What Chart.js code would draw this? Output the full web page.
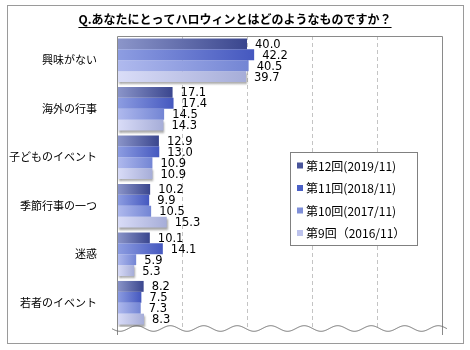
<!DOCTYPE html>
<html>
<head>
<meta charset="utf-8">
<script src="https://cdn.jsdelivr.net/npm/chart.js@4/dist/chart.umd.min.js"></script>
<style>
  html, body { margin: 0; padding: 0; background: #fff; }
  #wrap { width: 470px; height: 350px; position: relative; }
</style>
</head>
<body>
<div id="wrap"><canvas id="c" width="470" height="350"></canvas></div>
<script>
const titleText = 'Q.あなたにとってハロウィンとはどのようなものですか？';
const categories = ['興味がない', '海外の行事', '子どものイベント', '季節行事の一つ', '迷惑', '若者のイベント'];
const seriesLabels = ['第12回(2019/11)', '第11回(2018/11)', '第10回(2017/11)', '第9回（2016/11）'];
const s12 = [40.0, 17.1, 12.9, 10.2, 10.1, 8.2];
const s11 = [42.2, 17.4, 13.0, 9.9, 14.1, 7.5];
const s10 = [40.5, 14.5, 10.9, 10.5, 5.9, 7.3];
const s9  = [39.7, 14.3, 10.9, 15.3, 5.3, 8.3];
const xMin = 0, xMax = 100, xStep = 20;

const gradStops = [
  ['#8C96CA', '#3A468E'],
  ['#8E9EE2', '#4558BF'],
  ['#B0BAEE', '#7385D4'],
  ['#DADDF8', '#A6ADD8']
];
const legendColors = ['#48549A', '#4B60C6', '#7F8FD8', '#BCC2EC'];

function barGradient(i) {
  return function(ctx) {
    const chart = ctx.chart;
    const area = chart.chartArea;
    if (!area || ctx.type !== 'data') return gradStops[i][1];
    const xs = chart.scales.x;
    const x0 = xs.getPixelForValue(0);
    const x1 = xs.getPixelForValue(ctx.parsed ? ctx.parsed.x : ctx.raw);
    const g = chart.ctx.createLinearGradient(x0, 0, Math.max(x1, x0 + 1), 0);
    g.addColorStop(0, gradStops[i][0]);
    g.addColorStop(1, gradStops[i][1]);
    return g;
  };
}

const seriesData = [s12, s11, s10, s9];

const decor = {
  id: 'decor',
  beforeDraw(chart) {
    const c = chart.ctx;
    c.save();
    c.fillStyle = '#fff';
    c.fillRect(0, 0, chart.width, chart.height);
    c.strokeStyle = '#9A9A9A';
    c.lineWidth = 1;
    c.strokeRect(7.5, 5.5, 456, 338);
    c.font = 'bold 12px "Noto Sans CJK JP"';
    c.fillStyle = '#000';
    c.textAlign = 'center';
    c.textBaseline = 'alphabetic';
    const tx = 235, ty = 24;
    c.fillText(titleText, tx, ty);
    const w = c.measureText(titleText).width;
    c.beginPath();
    c.moveTo(tx - w / 2, ty + 3.5);
    c.lineTo(tx + w / 2, ty + 3.5);
    c.strokeStyle = '#000';
    c.lineWidth = 1;
    c.stroke();
    c.restore();
  },
  beforeDatasetDraw(chart, args) {
    if (args.index === 3) {
      const c = chart.ctx;
      c.save();
      c.shadowColor = 'rgba(0,0,0,0.35)';
      c.shadowOffsetX = 1;
      c.shadowOffsetY = 2;
      c.shadowBlur = 2;
    }
  },
  afterDatasetDraw(chart, args) {
    if (args.index === 3) chart.ctx.restore();
  },
  afterDatasetsDraw(chart) {
    const c = chart.ctx;
    const a = chart.chartArea;
    c.save();
    c.strokeStyle = '#8A8A8A';
    c.lineWidth = 1;
    c.beginPath();
    c.moveTo(Math.round(a.left) + 0.5, a.bottom + 8);
    c.lineTo(Math.round(a.left) + 0.5, Math.round(a.top) + 0.5);
    c.lineTo(Math.round(a.right) + 0.5, Math.round(a.top) + 0.5);
    c.lineTo(Math.round(a.right) + 0.5, a.bottom + 8);
    c.stroke();
    c.strokeStyle = '#707070';
    c.beginPath();
    const yc = a.bottom + 1.5;
    const x0 = a.left - 5, x1 = a.right + 5;
    for (let x = x0; x <= x1; x += 0.5) {
      const y = yc + 2.8 * Math.cos((x - (a.left + 3)) / 33.5 * 2 * Math.PI);
      if (x === x0) c.moveTo(x, y); else c.lineTo(x, y);
    }
    c.stroke();
    c.font = '11.5px "DejaVu Sans"';
    c.fillStyle = '#000';
    c.textAlign = 'left';
    c.textBaseline = 'middle';
    chart.data.datasets.forEach((ds, i) => {
      const meta = chart.getDatasetMeta(i);
      meta.data.forEach((el, j) => {
        c.fillText(ds.data[j].toFixed(1), el.x + 8, el.y + 1);
      });
    });
    const lx = 290.5, ly = 152.5, lw = 127, lh = 93;
    c.fillStyle = '#fff';
    c.fillRect(lx, ly, lw, lh);
    c.strokeStyle = '#808080';
    c.strokeRect(lx, ly, lw, lh);
    c.font = '12px "Noto Sans CJK JP"';
    const rows = [165.5, 188, 210.5, 233];
    chart.data.datasets.forEach((ds, i) => {
      c.fillStyle = legendColors[i];
      c.fillRect(297, rows[i] - 3, 6, 6);
      c.fillStyle = '#000';
      c.textBaseline = 'middle';
      c.fillText(ds.label, 306, rows[i] + 0.5);
    });
    c.restore();
  }
};

new Chart(document.getElementById('c'), {
  type: 'bar',
  data: {
    labels: categories,
    datasets: seriesData.map((d, i) => ({
      label: seriesLabels[i],
      data: d,
      backgroundColor: barGradient(i),
      borderWidth: 0,
      categoryPercentage: 0.9,
      barPercentage: 1.0
    }))
  },
  options: {
    indexAxis: 'y',
    responsive: false,
    animation: false,
    devicePixelRatio: 1,
    layout: { padding: { top: 36, right: 28, bottom: 23, left: 0 } },
    plugins: {
      legend: { display: false },
      title: { display: false },
      tooltip: { enabled: false }
    },
    scales: {
      x: {
        min: xMin, max: xMax,
        ticks: { display: false, stepSize: xStep },
        grid: {
          drawTicks: false,
          color: (ctx) => (ctx.tick && (ctx.tick.value === xMin || ctx.tick.value === xMax)) ? 'rgba(0,0,0,0)' : '#C4C4C4',
          lineWidth: 1
        },
        border: { display: false, dash: [4, 3] },
        afterFit(scale) { scale.height = 0; }
      },
      y: {
        ticks: {
          color: '#000',
          font: { family: '"Noto Sans CJK JP"', size: 11 },
          padding: 12
        },
        grid: { display: false },
        border: { display: false },
        afterFit(scale) { scale.width = 117; }
      }
    }
  },
  plugins: [decor]
});
</script>
</body>
</html>
